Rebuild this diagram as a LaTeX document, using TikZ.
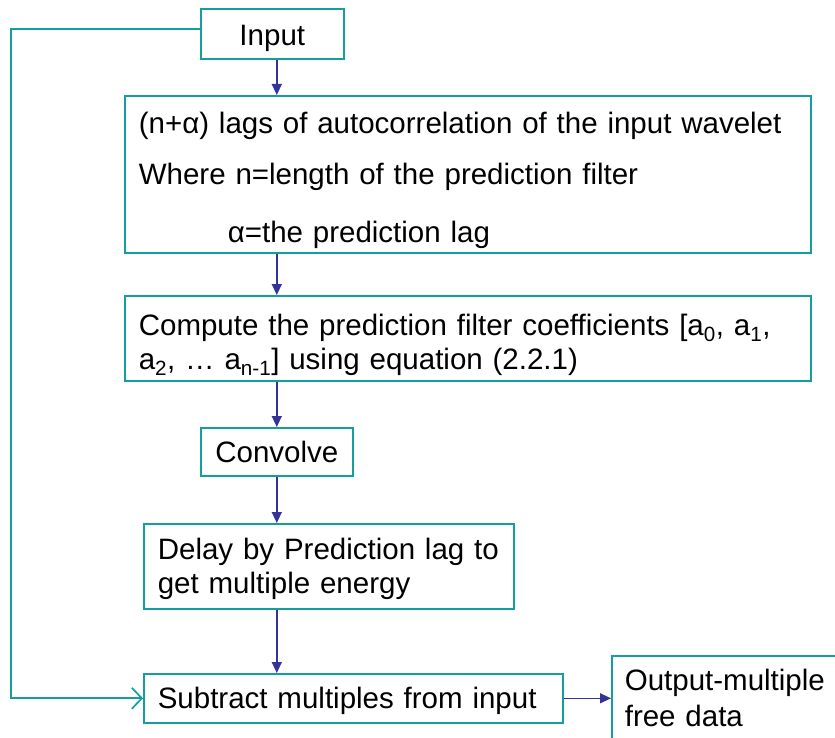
\documentclass[tikz,border=0pt]{standalone}
\usepackage{fontspec}
\setmainfont{Liberation Sans}
\usetikzlibrary{arrows.meta}
\definecolor{boxteal}{RGB}{20,158,158}
\definecolor{flowblue}{RGB}{51,51,153}
\tikzset{
  box/.style={draw=boxteal, line width=1.6pt, anchor=north west, inner ysep=0pt,
    align=left, font=\fontsize{29.5}{34}\selectfont},
  flow/.style={draw=flowblue, line width=1.4pt, -{Triangle[length=11pt,width=10pt]}},
  back/.style={draw=boxteal, line width=1.7pt, -{Straight Barb[length=10pt,width=21pt]}}
}
\begin{document}
\begin{tikzpicture}[x=1pt,y=-1pt]
\useasboundingbox (0,0) rectangle (835,738);
% boxes
\node[box, align=center, inner xsep=0pt, text width=143pt, text height=37pt, text depth=13pt] (in) at (200,8) {Input};
\node[box, inner xsep=14pt, text width=658pt, text height=38pt, text depth=119pt] (lags) at (124,95)
  {(n+α) lags of autocorrelation of the input wavelet\\[17pt]
   Where n=length of the prediction filter\\[24pt]
   \hspace*{89pt}α=the prediction lag};
\node[box, inner xsep=14pt, text width=658pt, text height=40pt, text depth=45pt] (coef) at (124,295)
  {Compute the prediction filter coefficients [a\textsubscript{0}, a\textsubscript{1},\\
   a\textsubscript{2}, … a\textsubscript{n-1}] using equation (2.2.1)};
\node[box, align=center, inner xsep=0pt, text width=152pt, text height=35pt, text depth=13pt] (conv) at (200,427) {Convolve};
\node[box, inner xsep=14pt, text width=342pt, text height=36pt, text depth=49pt] (delay) at (143,523)
  {Delay by Prediction lag to\\get multiple energy};
\node[box, inner xsep=14pt, text width=391pt, text height=35pt, text depth=14pt] (sub) at (143,673)
  {Subtract multiples from input};
\node[box, inner xsep=13pt, text width=240pt, text height=35pt, text depth=70pt] (out) at (611,655)
  {Output-multiple\\[2pt]free data};
% connectors
\draw[flow] (conv |- in.south) -- (conv |- lags.north);
\draw[flow] (conv |- lags.south) -- (conv |- coef.north);
\draw[flow] (conv |- coef.south) -- (conv.north);
\draw[flow] (conv.south) -- (conv |- delay.north);
\draw[flow] (conv |- delay.south) -- (conv |- sub.north);
\draw[flow] (sub.east) -- (out.west |- sub.east);
\draw[back] ([yshift=5pt]in.west) -- ++(-189,0) |- (sub.west);
\end{tikzpicture}
\end{document}
